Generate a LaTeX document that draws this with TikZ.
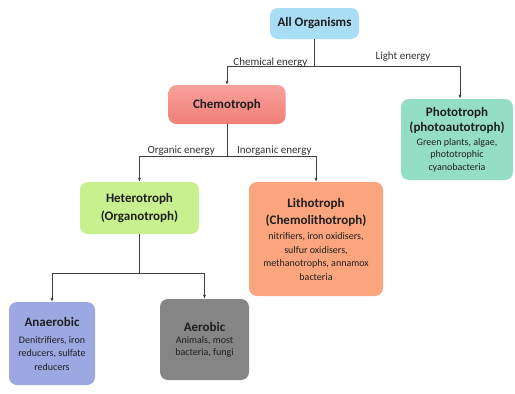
\documentclass[tikz,border=0pt]{standalone}
\usepackage{fontspec}
\setmainfont{Carlito}
\usetikzlibrary{arrows.meta}
\definecolor{cOrg}{HTML}{A9DDF5}
\definecolor{cChemoT}{HTML}{F8A09A}
\definecolor{cChemoB}{HTML}{F07F78}
\definecolor{cPhoto}{HTML}{94DEC6}
\definecolor{cHet}{HTML}{C8F08E}
\definecolor{cLitho}{HTML}{FBA57E}
\definecolor{cAna}{HTML}{9CA8E2}
\definecolor{cAer}{HTML}{858585}
\definecolor{cLine}{HTML}{404040}
\newcommand\ttlf{\fontsize{13}{15}\bfseries\selectfont}
\newcommand\subf{\fontsize{10}{12}\mdseries\selectfont}
\tikzset{
  box/.style={rounded corners=8pt, align=center, inner sep=2pt, font=\subf, text=black!88},
  conn/.style={draw=cLine, line width=0.7pt},
  arr/.style={conn, -{Latex[length=4pt,width=3.2pt]}},
  lbl/.style={font=\fontsize{11}{13}\selectfont, text=black!80, inner sep=1pt}
}
\begin{document}
\begin{tikzpicture}[x=1pt,y=-1pt]
\useasboundingbox (0,0) rectangle (515,394);
\node[box, fill=cOrg, minimum width=89pt, minimum height=31pt] (org) at (314.5,23.5) {\ttlf All Organisms};
\node[box, top color=cChemoT, bottom color=cChemoB, minimum width=117pt, minimum height=39pt] (chemo) at (227,104.5) {\ttlf Chemotroph};
\node[box, fill=cPhoto, minimum width=112pt, minimum height=81pt] (photo) at (457,139.5) {\ttlf Phototroph\\[3.5pt]\ttlf (photoautotroph)\\[1.5pt]\subf Green plants, algae,\\[0.5pt]\subf phototrophic\\[0.5pt]\subf cyanobacteria};
\node[box, fill=cHet, minimum width=119pt, minimum height=52pt] (het) at (139.5,208) {\ttlf Heterotroph\\[5.5pt]\ttlf (Organotroph)};
\node[box, fill=cLitho, minimum width=134pt, minimum height=114pt] (litho) at (316,239) {\ttlf Lithotroph\\[5.5pt]\ttlf (Chemolithotroph)\\[3pt]\subf nitrifiers, iron oxidisers,\\[1.5pt]\subf sulfur oxidisers,\\[1.5pt]\subf methanotrophs, annamox\\[1.5pt]\subf bacteria};
\node[box, fill=cAna, minimum width=86pt, minimum height=83pt] (ana) at (52,343.5) {\ttlf Anaerobic\\[5pt]\subf Denitrifiers, iron\\[1.5pt]\subf reducers, sulfate\\[1.5pt]\subf reducers};
\node[box, fill=cAer, minimum width=89pt, minimum height=81pt] (aer) at (204.5,339.5) {\ttlf Aerobic\\\subf Animals, most\\\subf bacteria, fungi};

\coordinate (j1) at (314.5,66);
\coordinate (j2) at (227,156);
\coordinate (j3) at (139.5,273);
\draw[conn] (org.south) -- (j1);
\draw[arr] (j1) -| (chemo.north);
\draw[arr] (j1) -| ([xshift=3pt]photo.north);
\draw[conn] (chemo.south) -- (j2);
\draw[arr] (j2) -| (het.north);
\draw[arr] (j2) -| (litho.north);
\draw[conn] (het.south) -- (j3);
\draw[arr] (j3) -| (ana.north);
\draw[arr] (j3) -| (aer.north);

\node[lbl, anchor=south east] (l1) at ([xshift=-6pt,yshift=-3pt]j1) {Chemical energy};
\node[lbl, anchor=south] (l2) at (403,63) {Light energy};
\node[lbl, anchor=south east] (l3) at ([xshift=-11pt,yshift=-1pt]j2) {Organic energy};
\node[lbl, anchor=south west] (l4) at ([xshift=9pt,yshift=-1pt]j2) {Inorganic energy};
\end{tikzpicture}
\end{document}
